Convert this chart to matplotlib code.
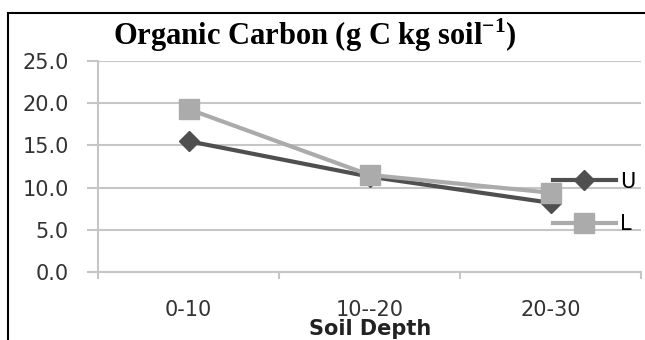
import matplotlib.pyplot as plt
from matplotlib.patches import Rectangle

depth = ['0-10', '10--20', '20-30']
carbon_u = [15.5, 11.3, 8.2]
carbon_l = [19.3, 11.5, 9.4]
y_ticks = [0, 5, 10, 15, 20, 25]

grid_c = '#c6c6c6'
txt_font = 'DejaVu Sans'
fig = plt.figure(figsize=(6.45, 3.4), dpi=100)
ax = fig.add_axes([98/645, 68/340, 543/645, 211/340])

x = range(len(depth))
ax.plot(x, carbon_u, color='#4f4f4f', lw=3, marker='D', ms=10, label='U', zorder=3)
ax.plot(x, carbon_l, color='#ababab', lw=3, marker='s', ms=14, label='L', zorder=3)

ax.set_xlim(-0.5, 2.5)
ax.set_ylim(0, 25)
ax.set_yticks(y_ticks)
ax.set_yticklabels(['%.1f' % v for v in y_ticks], fontsize=15, family=txt_font, color='#333333')
ax.set_xticks(list(x))
ax.set_xticklabels(depth, fontsize=15, family=txt_font, color='#333333')
ax.set_xticks([-0.5, 0.5, 1.5, 2.5], minor=True)
ax.tick_params(axis='x', which='major', length=0, pad=20)
ax.tick_params(axis='x', which='minor', length=5, width=1.5, color=grid_c)
ax.tick_params(axis='y', length=8, width=1.5, color=grid_c, pad=13)
ax.yaxis.grid(True, color=grid_c, lw=1.5)
ax.set_axisbelow(True)
for s in ['top', 'right']:
    ax.spines[s].set_visible(False)
for s in ['left', 'bottom']:
    ax.spines[s].set_color(grid_c)
    ax.spines[s].set_linewidth(1.5)

fig.text(370/645, 1 - 329/340, 'Soil Depth', fontsize=15, family=txt_font, fontweight='bold',
         ha='center', va='center', color='#222222')

fig.text(0.488, 1 - 35/340, r'Organic Carbon (g C kg soil$^{\mathregular{-1}}$)', fontsize=22,
         family='Liberation Serif', fontweight='bold', ha='center', va='center')

leg = ax.legend(loc='center left', bbox_to_anchor=(553/645, 1 - 203/340), bbox_transform=fig.transFigure,
                frameon=False, handlelength=3.0, handletextpad=0.2, labelspacing=1.1,
                borderaxespad=0, borderpad=0, prop={'family': txt_font, 'size': 15})

fig.patches.append(Rectangle((8/645, -0.1), 1.2, 1.1 - 13/340, transform=fig.transFigure,
                             fill=False, edgecolor='black', lw=1.5))

fig.savefig('out.png', dpi=100)
